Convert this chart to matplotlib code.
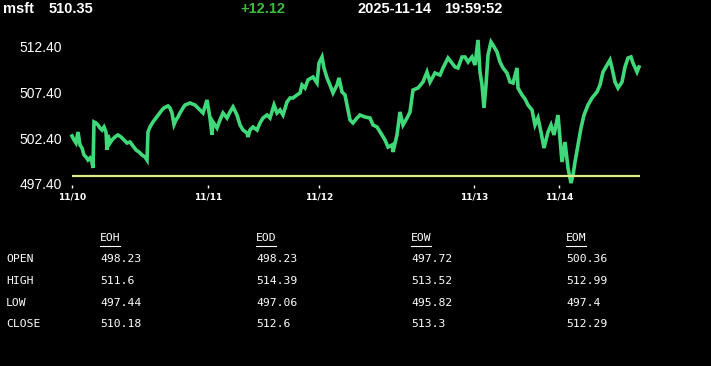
'''
msft intraday price chart with OHLC summary table
'''
import matplotlib
matplotlib.use('Agg')
import matplotlib.pyplot as plt
from matplotlib.lines import Line2D

# ---- data ----
symbol = 'msft'
last_price = '510.35'
change = '+12.12'
date_str = '2025-11-14'
time_str = '19:59:52'
ref_open = 498.23

# session position (chart units) and price
t = [0, 2, 4, 6, 8, 10, 12, 14, 16, 18, 20, 21, 22, 24, 26, 28, 30, 32, 34, 35,
     36, 38, 40, 43, 46, 49, 52, 55, 58, 61, 64, 67, 70, 73, 75, 76, 78, 81, 84,
     87, 90, 92, 94, 96, 98, 100, 102, 104, 106, 108, 111, 113, 118, 123, 128,
     131, 135, 138, 140, 141, 145, 148, 151, 155, 158, 161, 165, 168, 171, 175,
     176, 178, 181, 185, 188, 191, 195, 198, 202, 205, 208, 211, 215, 218, 221,
     225, 228, 230, 233, 236, 241, 245, 247, 250, 252, 255, 258, 261, 265, 267,
     270, 273, 275, 278, 281, 285, 288, 293, 298, 301, 305, 310, 313, 316, 320,
     321, 325, 328, 331, 335, 338, 341, 346, 351, 355, 358, 363, 368, 371, 376,
     380, 383, 386, 390, 393, 396, 400, 403, 406, 408, 410, 412, 414, 416, 419,
     421, 425, 428, 431, 435, 438, 441, 445, 446, 450, 453, 456, 460, 463, 466,
     469, 472, 476, 479, 482, 486, 488, 490, 493, 496, 498, 499, 501, 503, 506,
     509, 512, 516, 520, 525, 528, 531, 535, 538, 540, 543, 546, 550, 553, 556,
     559, 561, 565, 567]
price = [502.65, 502.21, 501.88, 503.08, 501.66, 501.33, 500.57, 500.35, 500.02,
         500.24, 499.80, 499.15, 504.18, 504.07, 503.85, 503.52, 503.30, 503.63,
         503.08, 501.12, 502.76, 501.88, 502.21, 502.54, 502.76, 502.54, 502.21,
         501.88, 501.99, 501.55, 501.12, 500.90, 500.57, 500.35, 500.02, 503.08,
         503.63, 504.18, 504.61, 505.05, 505.49, 505.71, 505.82, 505.93, 505.71,
         505.16, 503.90, 504.40, 504.72, 505.16, 505.71, 506.03, 506.25, 506.03,
         505.49, 505.16, 506.58, 504.61, 502.76, 504.18, 503.52, 504.40, 505.16,
         504.61, 505.27, 505.82, 504.94, 503.85, 503.30, 502.97, 502.54, 503.30,
         503.63, 503.30, 504.07, 504.61, 504.94, 504.61, 506.03, 505.16, 505.49,
         504.94, 506.36, 506.80, 506.80, 507.13, 507.35, 508.22, 507.89, 508.77,
         509.09, 508.44, 510.62, 511.28, 510.08, 508.99, 508.22, 507.35, 508.22,
         508.99, 507.46, 507.13, 506.03, 504.40, 504.07, 504.61, 504.94, 504.72,
         504.61, 503.85, 503.63, 502.76, 502.21, 501.44, 501.66, 500.90, 502.76,
         505.27, 503.85, 504.61, 505.27, 507.67, 507.89, 508.55, 509.64, 508.55,
         509.53, 509.31, 510.08, 511.17, 510.62, 510.19, 510.08, 511.28, 511.28,
         510.73, 511.28, 510.40, 513.14, 509.64, 508.22, 505.71, 508.22, 511.50,
         512.92, 512.59, 511.83, 510.73, 510.08, 509.53, 508.55, 508.44, 510.08,
         507.89, 507.13, 506.70, 506.03, 505.49, 503.85, 504.61, 503.08, 501.33,
         503.08, 503.85, 502.76, 504.94, 502.43, 499.80, 501.99, 499.15, 498.06,
         497.50, 498.38, 499.80, 501.66, 503.52, 504.94, 506.03, 506.80, 507.46,
         508.22, 509.64, 510.40, 510.95, 510.08, 508.55, 507.89, 508.55, 510.19,
         511.17, 511.28, 510.62, 509.64, 510.19]

day_pos = [0, 136, 247, 402, 487]
day_labels = ['11/10', '11/11', '11/12', '11/13', '11/14']
y_ticks = [497.40, 502.40, 507.40, 512.40]

# summary table
col_names = ['EOH', 'EOD', 'EOW', 'EOM']
row_names = ['OPEN', 'HIGH', 'LOW', 'CLOSE']
open_vals = [498.23, 498.23, 497.72, 500.36]
high_vals = [511.6, 514.39, 513.52, 512.99]
low_vals = [497.44, 497.06, 495.82, 497.4]
close_vals = [510.18, 512.6, 513.3, 512.29]

W, H = 711, 366
GREEN = '#40d97a'
YELLOW = '#dfe98c'


def fx(px):
  return px / W


def fy(py):
  return 1 - py / H


fig = plt.figure(figsize=(W / 100, H / 100), dpi=100, facecolor='black')

# header line
hdr = dict(color='white', fontsize=10.5, fontweight='bold',
           family='Liberation Sans', va='center', ha='left')
fig.text(fx(3), fy(9), symbol, **hdr)
fig.text(fx(49), fy(9), last_price, **hdr)
fig.text(fx(240), fy(9), change, **{**hdr, 'color': '#3dbb3d'})
fig.text(fx(357), fy(9), date_str, **hdr)
fig.text(fx(444), fy(9), time_str, **hdr)

# price chart
ax = fig.add_axes([fx(72), fy(185), fx(640) - fx(72), fy(38.5) - fy(185)])
ax.set_facecolor('black')
ax.plot(t, price, color=GREEN, linewidth=2.6, solid_joinstyle='miter', clip_on=False)
ax.axhline(ref_open, color=YELLOW, linewidth=1.6)
ax.set_xlim(0, 568)
ax.set_ylim(497.29, 513.3)
for s in ax.spines.values():
  s.set_visible(False)
ax.set_yticks(y_ticks)
ax.set_yticklabels(['%.2f' % v for v in y_ticks])
ax.tick_params(axis='y', length=0, pad=7, labelsize=10, labelcolor='white')
ax.set_xticks(day_pos)
ax.set_xticklabels(day_labels)
ax.tick_params(axis='x', length=2.5, width=1, color='white', pad=3,
               labelsize=6.5, labelcolor='white')
for lab in ax.get_xticklabels():
  lab.set_fontweight('bold')
for lab in ax.get_yticklabels():
  lab.set_family('Liberation Sans')

# summary table
mono = dict(color='white', fontsize=8.2, family='DejaVu Sans Mono',
            va='center', ha='left')
col_x = [100, 256, 411, 566]
row_y = [259, 281, 303, 324]
for x, name in zip(col_x, col_names):
  fig.text(fx(x), fy(238), name, **mono)
  fig.add_artist(Line2D([fx(x), fx(x + 20)], [fy(245.5), fy(245.5)],
                        color='white', linewidth=0.8))
rows = [open_vals, high_vals, low_vals, close_vals]
for y, name, vals in zip(row_y, row_names, rows):
  fig.text(fx(6), fy(y), name, **mono)
  for x, v in zip(col_x, vals):
    fig.text(fx(x), fy(y), str(v), **mono)

fig.savefig('out.png', dpi=100, facecolor='black')
